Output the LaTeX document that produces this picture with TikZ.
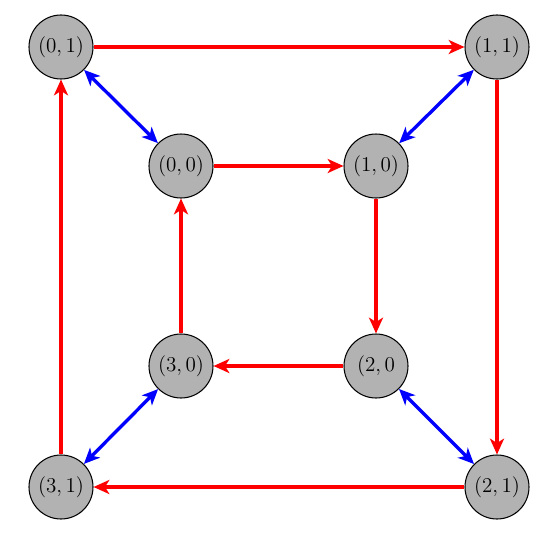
\documentclass[tikz,border=0pt]{standalone}
\usepackage{amsmath}
\usepackage{amssymb}
\usepackage{tikz}
\usetikzlibrary{arrows.meta}

\begin{document}
\begin{tikzpicture}[etat/.style={circle, draw, semithick, fill=gray!60, minimum size=1.28cm, inner sep=0pt, font=\large},
  rouge/.style={-{Stealth[length=9pt,width=8pt,inset=2.5pt]}, red, line width=1.9pt},
  bleu/.style={{Stealth[length=9pt,width=8pt,inset=2.5pt]}-{Stealth[length=9pt,width=8pt,inset=2.5pt]}, blue, line width=1.9pt}]
\useasboundingbox (0,0) rectangle (11,10.84) ;
\node[etat] (n01) at (1.22,9.9) {$(0,1)$} ;
\node[etat] (n11) at (9.94,9.9) {$(1,1)$} ;
\node[etat] (n00) at (3.62,7.52) {$(0,0)$} ;
\node[etat] (n10) at (7.52,7.52) {$(1,0)$} ;
\node[etat] (n30) at (3.62,3.52) {$(3,0)$} ;
\node[etat] (n20) at (7.52,3.52) {$(2,0$} ;
\node[etat] (n31) at (1.22,1.1) {$(3,1)$} ;
\node[etat] (n21) at (9.94,1.1) {$(2,1)$} ;
\draw[rouge] (n01) -- (n11) ;
\draw[rouge] (n11) -- (n21) ;
\draw[rouge] (n21) -- (n31) ;
\draw[rouge] (n31) -- (n01) ;
\draw[rouge] (n00) -- (n10) ;
\draw[rouge] (n10) -- (n20) ;
\draw[rouge] (n20) -- (n30) ;
\draw[rouge] (n30) -- (n00) ;
\draw[bleu] (n01) -- (n00) ;
\draw[bleu] (n11) -- (n10) ;
\draw[bleu] (n20) -- (n21) ;
\draw[bleu] (n30) -- (n31) ;
\end{tikzpicture}
\end{document}
